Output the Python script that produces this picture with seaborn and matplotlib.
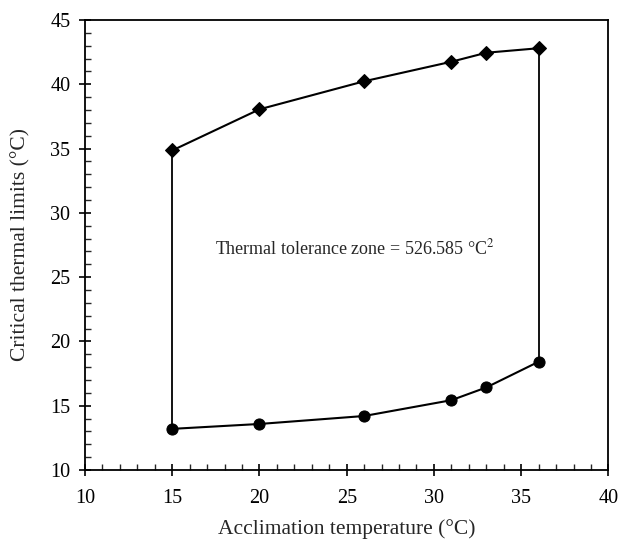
import matplotlib
matplotlib.use("Agg")
import matplotlib.pyplot as plt
import seaborn as sns
import pandas as pd
from matplotlib.ticker import MultipleLocator

# ------------- datos -------------
acclimation = [15, 20, 26, 31, 33, 36]
ctmax = [34.85, 38.05, 40.23, 41.75, 42.45, 42.8]
ctmin = [13.2, 13.58, 14.2, 15.43, 16.42, 18.42]
zone_label = "Thermal tolerance zone = 526.585 °C$^2$"

df = pd.DataFrame({"acc": acclimation, "ctmax": ctmax, "ctmin": ctmin})

# ------------- estilo -------------
sns.set_style("ticks")
plt.rcParams["font.family"] = ["Liberation Serif", "DejaVu Serif"]
plt.rcParams["mathtext.fontset"] = "stix"

fig = plt.figure(figsize=(6.18, 5.39), dpi=100)
ax = fig.add_axes([0.1375, 0.128, 0.847, 0.835])

sns.lineplot(data=df, x="acc", y="ctmax", marker="D", markersize=7, color="black",
             linewidth=1.5, markeredgecolor="black", ax=ax)
sns.lineplot(data=df, x="acc", y="ctmin", marker="o", markersize=8, color="black",
             linewidth=1.5, markeredgecolor="black", ax=ax)

# lados verticales del poligono
ax.plot([acclimation[0], acclimation[0]], [ctmin[0], ctmax[0]], color="black", lw=1.3)
ax.plot([acclimation[-1], acclimation[-1]], [ctmin[-1], ctmax[-1]], color="black", lw=1.3)

ax.text(25.47, 27.2, zone_label, ha="center", va="center", fontsize=13)

ax.set_xlim(10, 40)
ax.set_ylim(10, 45)
ax.xaxis.set_major_locator(MultipleLocator(5))
ax.xaxis.set_minor_locator(MultipleLocator(1))
ax.yaxis.set_major_locator(MultipleLocator(5))
ax.yaxis.set_minor_locator(MultipleLocator(1))
ax.tick_params(which="major", direction="inout", length=9, width=1.2, labelsize=14.5, colors="black")
ax.tick_params(which="minor", direction="in", length=4, width=1.0)
ax.tick_params(axis="x", which="major", pad=9)
ax.tick_params(axis="y", which="major", pad=6)

for s in ax.spines.values():
    s.set_color("black")
    s.set_linewidth(1.3)

ax.set_xlabel("Acclimation temperature (°C)", fontsize=15.5, labelpad=8)
ax.set_ylabel("Critical thermal limits (°C)", fontsize=15.5, labelpad=14)

fig.savefig("out.png", dpi=100)
